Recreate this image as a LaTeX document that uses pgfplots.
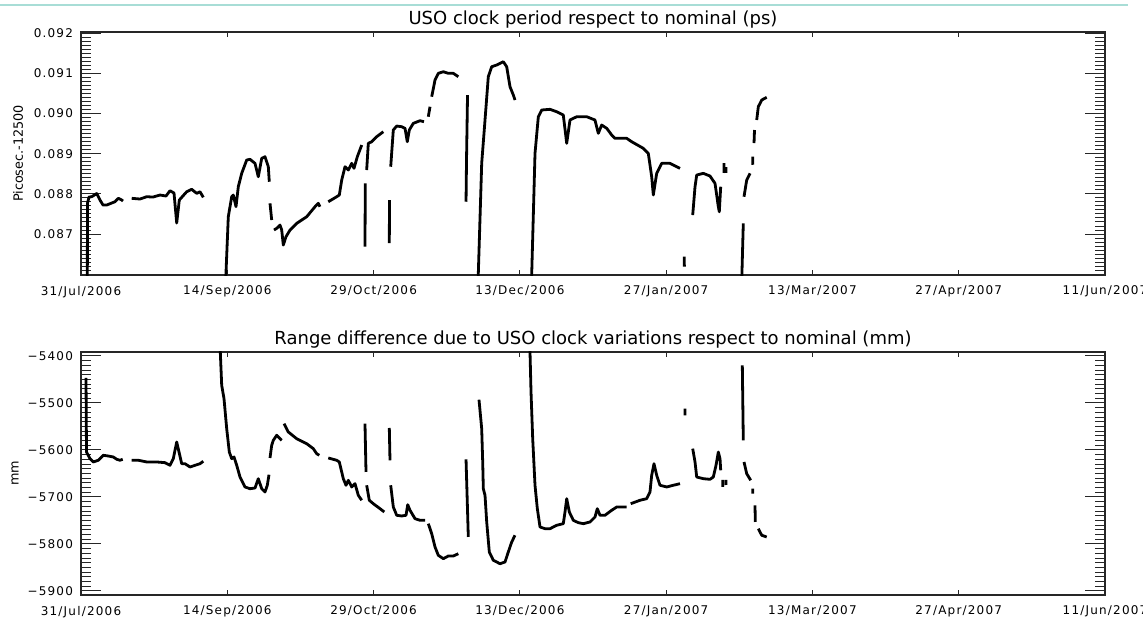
\documentclass[border=0pt]{standalone}
\usepackage{pgfplots}
\pgfplotsset{compat=1.18}
\usepackage{pgfplotstable}
\usepackage{fontspec}
\setmainfont{DejaVu Sans}
\newfontfamily\tickfont{DejaVu Sans}[LetterSpace=10]

% days since 31/Jul/2006, clock period - 12500 (ps)
\pgfplotstableread{
d v
1.94 0.0858
2.0 0.087772
2.46 0.087921
3.29 0.087929
4.83 0.088008
5.84 0.087847
6.77 0.087722
7.91 0.087722
9.44 0.087772
10.46 0.087804
11.47 0.087889
12.52 0.087847
12.92 0.087822
13.5 nan
15.6 0.087889
18.15 0.087872
20.21 0.087929
22.15 0.087921
24.3 0.087971
26.15 0.087946
27.38 0.088078
28.61 0.088021
29.44 0.087274
30.24 0.087847
32.51 0.088053
34.05 0.088113
35.59 0.088013
36.61 0.088053
37.62 0.087914
40 nan
44.45 0.0858
44.6 0.086029
45.31 0.087431
46.36 0.087929
46.85 0.087971
47.68 0.08768
48.39 0.088178
49.43 0.088511
50.97 0.088843
51.99 0.08886
53.52 0.08876
54.54 0.088427
55.59 0.088885
56.6 0.088925
57.62 0.088676
57.92 0.088302
58.0 nan
58.14 0.087764
58.66 0.087349
59.0 nan
59.37 0.0871
60.2 0.087142
61.22 0.087224
61.74 0.0871
62.23 0.086726
63.06 0.086933
64.3 0.0871
66.35 0.087266
69.43 0.087431
71.98 0.08768
73.0 0.087764
73.52 0.08768
75 nan
76.07 0.087804
78.66 0.087929
79.46 0.087971
80.2 0.088345
81.21 0.088676
82.23 0.088594
83.27 0.08876
83.98 0.088636
85.0 0.088925
86.35 0.089216
87 nan
87.36 0.086684
87.45 0.088262
87.6 nan
87.88 0.088594
88.38 0.089258
89.43 0.089298
90.96 0.089423
93.0 0.089547
94 nan
94.84 0.086776
94.9 0.087847
95.1 nan
95.27 0.088676
96.07 0.08959
97.12 0.089689
98.65 0.089672
99.67 0.089632
100.37 0.089298
100.99 0.08959
102.22 0.089756
104.28 0.089821
105.51 0.089796
106 nan
106.84 0.089921
107.36 0.09017
107.6 nan
107.88 0.090419
108.9 0.090835
109.91 0.091001
111.45 0.091041
112.99 0.091001
114.53 0.091001
116.07 0.090917
117 nan
118.44 0.087804
118.59 0.088843
118.9 0.090461
120 nan
122.2 0.0858
122.22 0.086021
123.26 0.08876
124.28 0.089839
125.29 0.090917
126.34 0.091166
127.88 0.091208
129.91 0.09129
130.95 0.091166
131.97 0.090668
132.99 0.090461
133.51 0.090337
135 nan
138.58 0.0858
138.65 0.086021
139.66 0.089009
140.68 0.089921
141.72 0.090088
144.27 0.090105
146.33 0.090045
148.36 0.089963
149.41 0.089258
150.42 0.089839
152.49 0.089921
155.56 0.089921
158.11 0.089839
159.13 0.089507
160.17 0.089714
161.71 0.089632
163.25 0.089465
164.26 0.089383
167.86 0.089383
169.4 0.089298
172.97 0.089134
174.51 0.089009
175.55 0.088427
176.05 0.087971
177.09 0.088511
178.63 0.08876
181.18 0.08876
184.26 0.088636
184.9 nan
185.58 0.086435
185.6 0.086186
186 nan
188.17 0.087473
188.88 0.088178
189.4 0.088469
191.43 0.088511
193.49 0.088444
195.03 0.088262
196.05 0.08768
196.35 0.087555
196.78 0.088178
197.2 nan
197.8 0.088768
197.82 0.08852
198.1 nan
198.4 0.088668
198.42 0.08852
199 nan
203.24 0.0858
203.73 0.087266
203.85 nan
203.95 0.087929
204.78 0.088345
205.8 0.088511
206.2 nan
206.63 0.088925
206.66 0.088725
206.9 nan
207.03 0.089266
207.18 0.08959
207.5 nan
207.86 0.089839
208.35 0.09017
209.4 0.090337
210.93 0.090404
}\toptable

% days since 31/Jul/2006, range difference (mm)
\pgfplotstableread{
d v
1.54 -5446.8
1.69 -5604.3
2.77 -5618.5
3.78 -5625.5
5.32 -5621.9
6.86 -5611.3
8.4 -5612.8
9.94 -5614.9
10.98 -5619.8
12.0 -5621.9
12.83 -5619.8
13.5 nan
15.6 -5621.9
17.63 -5621.9
20.21 -5625.5
23.29 -5625.5
25.84 -5627.0
27.38 -5632.6
28.39 -5618.5
29.44 -5583.0
30.15 -5604.3
30.98 -5629.2
31.99 -5629.2
33.53 -5636.2
35.07 -5632.6
36.61 -5629.2
37.62 -5624.0
40 nan
42.76 -5376.6
42.85 -5391.5
43.28 -5462.3
43.99 -5490.8
44.82 -5554.7
45.62 -5604.3
46.36 -5618.5
47.07 -5614.9
47.9 -5632.6
48.91 -5657.5
50.45 -5678.7
51.99 -5682.4
53.53 -5680.9
54.54 -5661.1
55.59 -5682.4
56.6 -5689.4
57.31 -5675.1
57.83 -5652.6
58.0 nan
58.14 -5617.0
58.66 -5590.0
59.16 -5579.4
60.2 -5568.7
61.22 -5576.0
61.74 -5579.4
62.0 nan
62.45 -5544.0
63.77 -5561.7
66.35 -5576.0
69.43 -5586.6
71.46 -5597.2
72.5 -5607.9
73.3 -5611.3
75 nan
76.07 -5617.0
78.66 -5621.9
79.46 -5625.5
80.69 -5661.1
81.52 -5675.1
82.23 -5664.5
83.27 -5678.7
84.29 -5671.7
85.3 -5696.4
86.35 -5707.0
87 nan
87.36 -5544.0
87.67 -5646.8
87.75 nan
87.88 -5675.1
88.68 -5707.0
89.92 -5714.3
91.98 -5724.9
93.3 -5731.9
94 nan
94.84 -5553.2
95.05 -5621.9
95.15 nan
95.27 -5675.1
96.07 -5721.3
97.12 -5739.0
98.65 -5740.4
99.98 -5739.0
100.5 -5716.4
101.21 -5728.3
102.75 -5746.2
104.28 -5749.6
105.82 -5749.6
106.3 nan
106.84 -5756.8
107.88 -5778.1
108.9 -5806.4
109.91 -5824.1
111.45 -5831.3
112.99 -5825.6
114.53 -5825.6
116.07 -5820.7
117 nan
118.44 -5619.8
119.14 -5785.1
120 nan
122.43 -5493.0
123.26 -5554.7
123.57 -5625.5
123.76 -5682.4
124.28 -5696.4
124.8 -5753.2
125.6 -5817.1
126.83 -5834.7
128.89 -5842.0
130.43 -5838.3
131.44 -5817.1
132.49 -5795.8
133.51 -5781.5
135 nan
138.1 -5376.6
138.12 -5391.5
138.43 -5476.6
138.95 -5576.0
139.66 -5675.1
140.37 -5724.9
141.2 -5763.9
142.74 -5767.5
144.27 -5767.5
146.33 -5760.2
148.36 -5756.8
148.89 -5731.9
149.41 -5703.6
150.21 -5731.9
151.44 -5749.6
152.98 -5754.7
154.52 -5756.8
156.58 -5753.2
158.11 -5742.6
158.82 -5724.9
159.65 -5739.0
161.19 -5739.0
163.25 -5728.3
164.79 -5721.3
167.86 -5721.3
168.5 nan
169.1 -5714.3
171.96 -5707.0
174.02 -5703.6
175.03 -5689.4
175.55 -5653.8
176.26 -5629.2
177.09 -5653.8
178.11 -5675.1
180.17 -5678.7
182.2 -5675.1
184.26 -5671.7
185 nan
185.8 -5512.1
185.82 -5526.2
186.5 nan
188.17 -5597.2
188.88 -5625.5
189.4 -5657.5
191.43 -5661.1
193.49 -5662.4
194.51 -5657.5
195.34 -5632.6
196.05 -5604.3
196.57 -5618.5
196.78 -5643.2
197.1 nan
197.4 -5663.8
197.42 -5678.7
198 nan
198.41 -5663.8
198.43 -5674.5
199 nan
203.43 -5419.8
203.73 -5579.4
203.85 nan
203.95 -5625.5
204.78 -5650.4
206.01 -5664.5
206.3 nan
206.63 -5682.4
206.65 -5693.0
207 nan
207.33 -5717.7
207.43 -5753.2
207.9 nan
208.35 -5767.5
209.4 -5781.5
210.93 -5785.1
}\bottable

\pgfplotsset{
  uso/.style={
    scale only axis, width=512pt, height=121.5pt, anchor=south west,
    xmin=0, xmax=315,
    xtick={0,45,90,135,180,225,270,315},
    xticklabels={31/Jul/2006,14/Sep/2006,29/Oct/2006,13/Dec/2006,27/Jan/2007,13/Mar/2007,27/Apr/2007,11/Jun/2007},
    scaled y ticks=false,
    tick align=inside,
    major tick length=10pt, minor tick length=5pt,
    xtick style={/pgfplots/major tick length=2.5pt},
    minor y tick num=9,
    axis line style={line width=0.6pt, black!85},
    every tick/.style={black!85, line width=0.5pt},
    ticklabel style={font=\tickfont\fontsize{6}{6}\selectfont},
    xticklabel style={yshift=-2pt},
    yticklabel style={xshift=-0.5pt},
    every axis title/.style={at={(axis description cs:0.5,1)}, anchor=base, yshift=3.6pt, font=\fontsize{9}{10}\selectfont},
    every axis y label/.style={at={(axis description cs:0,0.5)}, anchor=center, font=\fontsize{6.4}{7}\selectfont},
    unbounded coords=jump,
    /pgf/number format/assume math mode=true,
  }
}

\begin{document}
\begin{tikzpicture}
\useasboundingbox (0,0) rectangle (571.5pt,308.5pt);
\draw[color={rgb,255:red,168;green,221;blue,214}, line width=0.6pt] (0,306pt) -- (564pt,306pt);

\begin{axis}[uso, at={(40.5pt,171pt)},
  ymin=0.08598, ymax=0.09203,
  ytick={0.086,0.087,0.088,0.089,0.090,0.091,0.092},
  yticklabels={,0.087,0.088,0.089,0.090,0.091,0.092},
  title={USO clock period respect to nominal (ps)},
  ylabel={Picosec.-12500},
  ylabel style={xshift=-31.5pt, rotate=90},
]
\addplot[black, line width=1.4pt, line join=round, no markers] table[x=d, y=v] {\toptable};
\end{axis}

\begin{axis}[uso, at={(40.5pt,11pt)},
  ymin=-5908.6, ymax=-5391.5,
  ytick={-5900,-5800,-5700,-5600,-5500,-5400},
  yticklabels={−5900,−5800,−5700,−5600,−5500,−5400},
  title={Range difference due to USO clock variations respect to nominal (mm)},
  ylabel={mm},
  ylabel style={xshift=-33pt, rotate=90},
]
\addplot[black, line width=1.4pt, line join=round, no markers] table[x=d, y=v] {\bottable};
\end{axis}
\end{tikzpicture}
\end{document}
